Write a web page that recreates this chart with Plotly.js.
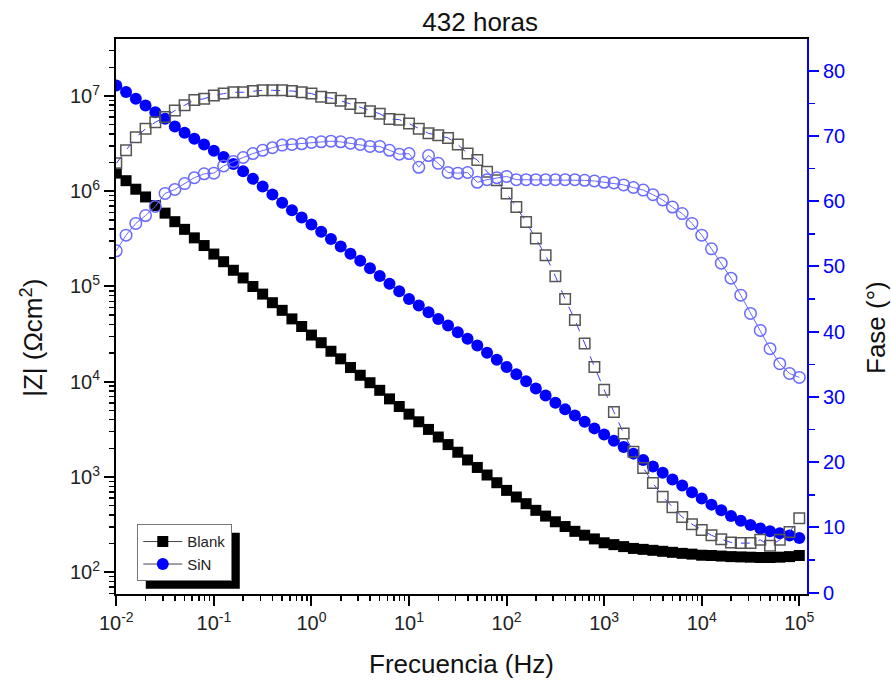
<!DOCTYPE html>
<html>
<head>
<meta charset="utf-8">
<script src="https://cdn.plot.ly/plotly-3.0.1.min.js"></script>
<style>
html,body{margin:0;padding:0;background:#fff;}
#chart{width:891px;height:685px;}
</style>
</head>
<body>
<div id="chart"></div>
<script>
// Frequencies (Hz), 10 points per decade
const frequencyHz = [
  0.01, 0.01259, 0.01585, 0.01995, 0.02512, 0.03162, 0.03981, 0.05012, 0.0631, 0.07943,
  0.1, 0.1259, 0.1585, 0.1995, 0.2512, 0.3162, 0.3981, 0.5012, 0.631, 0.7943,
  1, 1.259, 1.585, 1.995, 2.512, 3.162, 3.981, 5.012, 6.31, 7.943,
  10, 12.59, 15.85, 19.95, 25.12, 31.62, 39.81, 50.12, 63.1, 79.43,
  100, 125.9, 158.5, 199.5, 251.2, 316.2, 398.1, 501.2, 631, 794.3,
  1000, 1259, 1585, 1995, 2512, 3162, 3981, 5012, 6310, 7943,
  10000, 12590, 15850, 19950, 25120, 31620, 39810, 50120, 63100, 79430,
  100000
];

// |Z| (Ohm cm2)
const blankModZ = [
  1.55e6, 1.29e6, 1.05e6, 8.71e5, 7.08e5, 5.89e5, 4.79e5, 3.98e5, 3.24e5, 2.69e5,
  2.19e5, 1.82e5, 1.48e5, 1.23e5, 1.00e5, 8.32e4, 6.76e4, 5.62e4, 4.57e4, 3.80e4,
  3.09e4, 2.57e4, 2.09e4, 1.74e4, 1.41e4, 1.17e4, 9.77e3, 8.13e3, 6.61e3, 5.50e3,
  4.57e3, 3.80e3, 3.16e3, 2.63e3, 2.19e3, 1.82e3, 1.51e3, 1.26e3, 1.05e3, 871,
  724, 617, 525, 447, 389, 339, 302, 269, 245, 224,
  204, 195, 186, 178, 174, 170, 166, 162, 158, 155,
  151, 150, 148, 146, 145, 144, 143, 143, 144, 146,
  150
];
const sinModZ = [
  1.29e7, 1.10e7, 9.33e6, 7.94e6, 6.76e6, 5.75e6, 4.79e6, 4.12e6, 3.55e6, 3.09e6,
  2.66e6, 2.29e6, 1.93e6, 1.62e6, 1.35e6, 1.12e6, 9.23e5, 7.59e5, 6.31e5, 5.31e5,
  4.47e5, 3.76e5, 3.16e5, 2.63e5, 2.21e5, 1.86e5, 1.55e5, 1.29e5, 1.07e5, 8.91e4,
  7.41e4, 6.31e4, 5.37e4, 4.57e4, 3.89e4, 3.31e4, 2.82e4, 2.40e4, 2.02e4, 1.70e4,
  1.43e4, 1.20e4, 1.01e4, 8.51e3, 7.16e3, 6.03e3, 5.13e3, 4.42e3, 3.80e3, 3.24e3,
  2.79e3, 2.40e3, 2.07e3, 1.76e3, 1.51e3, 1.29e3, 1.11e3, 944, 813, 692,
  596, 513, 447, 389, 347, 313, 288, 269, 257, 243,
  229
];

// Phase (degrees)
const blankPhase = [
  65.8, 67.8, 69.8, 71.1, 72.1, 72.9, 73.9, 74.7, 75.5, 75.7,
  76.2, 76.5, 76.7, 76.7, 76.9, 77.0, 77.0, 77.0, 76.9, 76.7,
  76.5, 76.0, 75.8, 75.4, 74.9, 74.3, 73.8, 73.4, 72.6, 72.5,
  71.9, 71.1, 70.4, 70.1, 69.7, 68.7, 67.3, 66.3, 64.5, 63.2,
  61.2, 59.1, 56.8, 54.3, 51.7, 48.5, 45.0, 41.8, 38.2, 34.6,
  31.1, 27.7, 24.4, 21.6, 19.1, 16.8, 14.7, 13.1, 11.6, 10.5,
  9.6, 8.8, 8.2, 7.7, 7.6, 7.6, 8.1, 7.2, 8.1, 9.3,
  11.4
];
const sinPhase = [
  52.4, 54.8, 56.6, 57.8, 59.2, 61.2, 61.8, 62.7, 63.6, 64.2,
  64.3, 65.4, 66.1, 66.7, 67.3, 67.8, 68.2, 68.6, 68.7, 68.8,
  69.0, 69.1, 69.2, 69.1, 68.9, 68.7, 68.4, 68.4, 67.8, 67.2,
  67.3, 65.2, 67.0, 65.8, 64.4, 64.3, 64.4, 62.9, 63.3, 63.6,
  63.8, 63.3, 63.3, 63.3, 63.3, 63.3, 63.3, 63.3, 63.2, 63.1,
  62.9, 62.8, 62.5, 62.1, 61.7, 61.0, 60.2, 59.1, 58.1, 56.6,
  54.8, 52.7, 50.5, 48.2, 45.6, 42.8, 40.2, 37.4, 35.1, 33.6,
  33.0
];

const seriesNames = ['Blank', 'SiN'];

const xTickVals = [0.01, 0.1, 1, 10, 100, 1000, 10000, 100000];
const xTickLabels = ['10<sup>-2</sup>', '10<sup>-1</sup>', '10<sup>0</sup>', '10<sup>1</sup>',
  '10<sup>2</sup>', '10<sup>3</sup>', '10<sup>4</sup>', '10<sup>5</sup>'];
const yTickVals = [100, 1000, 10000, 100000, 1000000, 10000000];
const yTickLabels = ['10<sup>2</sup>', '10<sup>3</sup>', '10<sup>4</sup>', '10<sup>5</sup>',
  '10<sup>6</sup>', '10<sup>7</sup>'];

const FONT = 'Liberation Sans, Arial, Helvetica, sans-serif';
const BLUE = '#0000FF';

const traces = [
  {
    x: frequencyHz, y: blankModZ, name: seriesNames[0], type: 'scatter', mode: 'lines+markers',
    yaxis: 'y', line: {color: '#444', width: 1},
    marker: {symbol: 'square', size: 11, color: '#000000', line: {width: 0}}
  },
  {
    x: frequencyHz, y: sinModZ, name: seriesNames[1], type: 'scatter', mode: 'lines+markers',
    yaxis: 'y', line: {color: '#444', width: 1},
    marker: {symbol: 'circle', size: 12, color: BLUE, line: {width: 0}}
  },
  {
    x: frequencyHz, y: blankPhase, name: seriesNames[0] + ' fase', type: 'scatter', mode: 'lines+markers',
    yaxis: 'y2', showlegend: false, line: {color: '#3a3aff', width: 1, dash: 'dash'},
    marker: {symbol: 'square-open', size: 10.5, color: '#555555', line: {width: 1.5, color: '#555555'}}
  },
  {
    x: frequencyHz, y: sinPhase, name: seriesNames[1] + ' fase', type: 'scatter', mode: 'lines+markers',
    yaxis: 'y2', showlegend: false, line: {color: '#6a6aff', width: 1},
    marker: {symbol: 'circle-open', size: 11.5, color: '#6a6aff', line: {width: 1.5, color: '#6a6aff'}}
  }
];

const layout = {
  width: 891, height: 685, autosize: false,
  margin: {l: 116, r: 84, t: 39, b: 91, pad: 0},
  paper_bgcolor: '#ffffff', plot_bgcolor: '#ffffff',
  font: {family: FONT, size: 20, color: '#222'},
  showlegend: true,
  title: {
    text: '432 horas', font: {family: FONT, size: 26, color: '#111'},
    xref: 'paper', x: 0.527, xanchor: 'center',
    yref: 'container', y: 0.968, yanchor: 'middle'
  },
  xaxis: {
    type: 'log', range: [-2.003, 5.079], autorange: false,
    showline: true, linecolor: '#000', linewidth: 2, mirror: true,
    showgrid: false, zeroline: false,
    tickmode: 'array', tickvals: xTickVals, ticktext: xTickLabels,
    ticks: 'outside', ticklen: 10, tickwidth: 2, tickcolor: '#000',
    tickfont: {family: FONT, size: 20, color: '#222'},
    minor: {ticks: 'outside', ticklen: 5, tickwidth: 1.5, tickcolor: '#000', dtick: 'D1', showgrid: false},
    title: {text: 'Frecuencia (Hz)', font: {family: FONT, size: 26, color: '#111'}, standoff: 22}
  },
  yaxis: {
    type: 'log', range: [1.772, 7.598], autorange: false,
    showline: true, linecolor: '#000', linewidth: 2, mirror: false,
    showgrid: false, zeroline: false,
    tickmode: 'array', tickvals: yTickVals, ticktext: yTickLabels,
    ticks: 'outside', ticklen: 10, tickwidth: 2, tickcolor: '#000',
    tickfont: {family: FONT, size: 20, color: '#222'},
    minor: {ticks: 'outside', ticklen: 5, tickwidth: 1.5, tickcolor: '#000', dtick: 'D1', showgrid: false}
  },
  yaxis2: {
    overlaying: 'y', side: 'right', range: [-0.2, 84.86], autorange: false,
    showline: true, linecolor: BLUE, linewidth: 2,
    showgrid: false, zeroline: false,
    tickmode: 'linear', tick0: 0, dtick: 10,
    ticks: 'outside', ticklen: 10, tickwidth: 2, tickcolor: BLUE,
    tickfont: {family: FONT, size: 20, color: BLUE},
    minor: {ticks: 'outside', ticklen: 6, tickwidth: 1.5, tickcolor: BLUE, dtick: 5, tick0: 0, showgrid: false}
  },
  legend: {
    x: 0.0308, y: 0.1256, xanchor: 'left', yanchor: 'top',
    bgcolor: '#ffffff', bordercolor: '#777', borderwidth: 1,
    font: {family: FONT, size: 15, color: '#222'},
    tracegroupgap: 0, itemwidth: 39
  },
  annotations: [
    {
      text: '|Z| (Ωcm<sup>2</sup>)', xref: 'paper', yref: 'paper',
      x: -0.122, y: 0.461, xanchor: 'center', yanchor: 'middle',
      textangle: -90, showarrow: false, font: {family: FONT, size: 26, color: '#111'}
    },
    {
      text: 'Fase (°)', xref: 'paper', yref: 'paper',
      x: 1.0998, y: 0.481, xanchor: 'center', yanchor: 'middle',
      textangle: -90, showarrow: false, font: {family: FONT, size: 26, color: '#111'}
    }
  ],
  shapes: []
};

Plotly.newPlot('chart', traces, layout, {displayModeBar: false, staticPlot: true}).then(function (gd) {
  // add the legend drop shadow, offset from the rendered legend box
  const bg = gd.querySelector('.legend .bg');
  if (!bg) return;
  const r = bg.getBoundingClientRect();
  const c = gd.getBoundingClientRect();
  const s = gd._fullLayout._size;
  const off = 8;
  const toX = px => (px - c.left - s.l) / s.w;
  const toY = py => 1 - (py - c.top - s.t) / s.h;
  return Plotly.relayout(gd, {
    shapes: [{
      type: 'rect', xref: 'paper', yref: 'paper', layer: 'above',
      x0: toX(r.left + off), x1: toX(r.right + off),
      y0: toY(r.bottom + off), y1: toY(r.top + off),
      fillcolor: '#000', line: {width: 0}
    }]
  });
});
</script>
</body>
</html>
